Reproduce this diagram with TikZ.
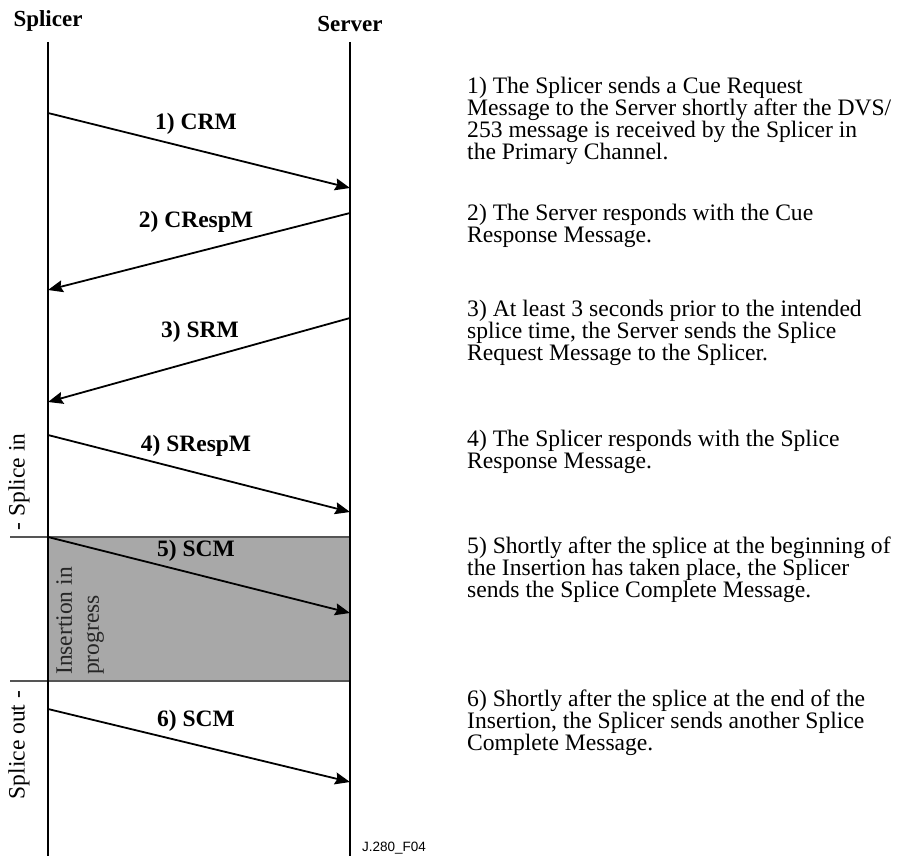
\documentclass[tikz,border=0pt]{standalone}
\usepackage{fontspec}
\setmainfont{Liberation Serif}
\newfontfamily\figsans{Liberation Sans}
\usetikzlibrary{arrows.meta}
\definecolor{bandgray}{HTML}{A8A8A8}
\definecolor{bandedge}{HTML}{555555}
\tikzset{
  life/.style={line width=2.8pt,black},
  msg/.style={line width=1.8pt,black,-{Stealth[length=15pt,width=12pt,inset=2pt]}},
  hdr/.style={font=\fontsize{23}{24}\selectfont\bfseries,inner sep=0pt},
  lbl/.style={font=\fontsize{23.5}{24}\selectfont\bfseries,inner sep=0pt},
  note/.style={font=\fontsize{23.6}{21.8}\selectfont,align=left,anchor=base west,inner sep=0pt},
  side/.style={font=\fontsize{23.5}{27}\selectfont,rotate=90,inner sep=0pt},
  band/.style={line width=1.2pt,bandedge}
}
\begin{document}
\begin{tikzpicture}[x=1pt,y=-1pt]
\useasboundingbox (0,0) rectangle (902,856);
% shaded insertion band
\fill[bandgray] (48,537) rectangle (350,681);
\coordinate (bandTL) at (10,537);
\coordinate (bandTR) at (350,537);
\coordinate (bandBL) at (10,681);
\coordinate (bandBR) at (350,681);
\draw[band] (bandTL) -- (bandTR);
\draw[band] (bandBL) -- (bandBR);
% headers
\node[hdr,anchor=base] (hsp) at (48,27) {Splicer};
\node[hdr,anchor=base] (hsv) at (350,32) {Server};
% lifelines
\coordinate (spT) at (48,42);
\coordinate (spB) at (48,856);
\coordinate (svT) at (350,42);
\coordinate (svB) at (350,856);
\draw[life] (spT) -- (spB);
\draw[life] (svT) -- (svB);
% message points
\coordinate (a1) at (48,113);  \coordinate (b1) at (350,188);
\coordinate (a2) at (350,213); \coordinate (b2) at (48,290);
\coordinate (a3) at (350,318); \coordinate (b3) at (48,402);
\coordinate (a4) at (48,435);  \coordinate (b4) at (350,512);
\coordinate (a5) at (48,537);  \coordinate (b5) at (350,613);
\coordinate (a6) at (48,709);  \coordinate (b6) at (350,782);
\draw[msg] (a1) -- (b1);
\draw[msg] (a2) -- (b2);
\draw[msg] (a3) -- (b3);
\draw[msg] (a4) -- (b4);
\draw[msg] (a5) -- (b5);
\draw[msg] (a6) -- (b6);
% message labels
\node[lbl] (l1) at (196,124) {1) CRM};
\node[lbl] (l2) at (196,222) {2) CRespM};
\node[lbl] (l3) at (200,332) {3) SRM};
\node[lbl] (l4) at (196,446) {4) SRespM};
\node[lbl] (l5) at (196,551) {5) SCM};
\node[lbl] (l6) at (196,721) {6) SCM};
% side labels
\node[side] (sin) at (19,482) {- Splice in};
\node[side] (sout) at (19,745) {Splice out -};
\node[side,align=left,anchor=north west,text=black!85] (ins) at (56,675) {Insertion in\\progress};
% notes (anchor = baseline of last line)
\node[note] (n1) at (467,159) {1) The Splicer sends a Cue Request\\Message to the Server shortly after the DVS/\\253 message is received by the Splicer in\\the Primary Channel.};
\node[note] (n2) at (467,242) {2) The Server responds with the Cue\\Response Message.};
\node[note] (n3) at (467,360) {3) At least 3 seconds prior to the intended\\splice time, the Server sends the Splice\\Request Message to the Splicer.};
\node[note] (n4) at (467,468) {4) The Splicer responds with the Splice\\Response Message.};
\node[note] (n5) at (467,597) {5) Shortly after the splice at the beginning of\\the Insertion has taken place, the Splicer\\sends the Splice Complete Message.};
\node[note] (n6) at (467,750) {6) Shortly after the splice at the end of the\\Insertion, the Splicer sends another Splice\\Complete Message.};
% figure id
\node[font=\figsans\fontsize{13.5}{14}\selectfont,anchor=base west,inner sep=0pt] (fid) at (362,851) {J.280\_F04};
\end{tikzpicture}
\end{document}
